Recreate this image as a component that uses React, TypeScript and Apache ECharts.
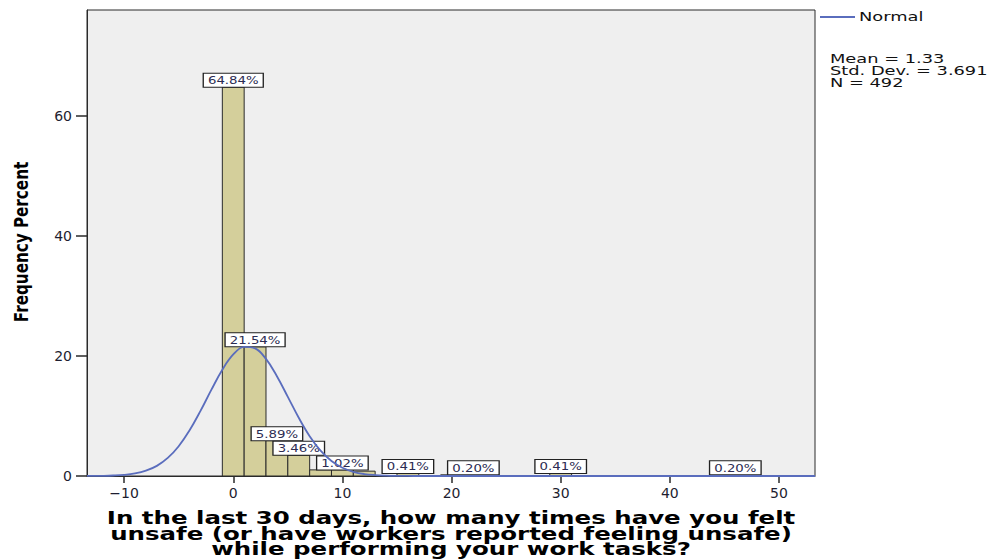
import React, { useEffect, useRef } from "react";
import * as echarts from "echarts";

// Histogram bins (bin width 2, centred on even values)
const binWidth = 2;
const binCenters = [0, 2, 4, 6, 8, 10, 12, 16, 20, 22, 30, 46];
const percents = [64.84, 21.54, 5.89, 3.46, 1.02, 1.02, 0.81, 0.41, 0.2, 0.2, 0.41, 0.2];
const labelShown = [true, true, true, true, false, true, false, true, false, true, true, true];

// Normal curve (Mean = 1.33, SD = 3.691, scaled to percent)
const normalX = [-13.4, -13, -12, -11, -10, -9, -8, -7, -6, -5, -4, -3, -2, -1, 0, 1, 2, 3, 4, 5, 6, 7, 8, 9, 10, 11, 12, 13, 14, 15, 16, 17, 18, 19, 20, 30, 40, 53.3];
const normalY = [0.01, 0.01, 0.03, 0.08, 0.19, 0.43, 0.89, 1.69, 3.01, 4.97, 7.62, 10.86, 14.39, 17.72, 20.26, 21.53, 21.27, 19.52, 16.64, 13.19, 9.71, 6.64, 4.22, 2.5, 1.37, 0.7, 0.33, 0.15, 0.06, 0.02, 0.01, 0, 0, 0, 0, 0, 0, 0];

const xTicks = [-10, 0, 10, 20, 30, 40, 50];
const yTicks = [0, 20, 40, 60];

const legendName = "Normal";
const statLines = ["Mean = 1.33", "Std. Dev. = 3.691", "N = 492"];
const xTitleLines = [
  "In the last 30 days, how many times have you felt",
  "unsafe (or have workers reported feeling unsafe)",
  "while performing your work tasks?",
];
const yTitle = "Frequency Percent";

export default function App() {
  const ref = useRef<HTMLDivElement>(null);

  useEffect(() => {
    if (!ref.current) return;
    const chart = echarts.init(ref.current, null, { renderer: "svg" });
    const barColor = "#d4cf9b";
    const lineColor = "#5a6dbd";
    const font = "DejaVu Sans";

    const option: any = {
      animation: false,
      backgroundColor: "#ffffff",
      grid: {
        left: 87,
        right: 180,
        top: 10,
        bottom: 83,
        show: true,
        backgroundColor: "#efefef",
        borderColor: "#2a2a2a",
        borderWidth: 1,
      },
      xAxis: {
        type: "value",
        min: -13.4,
        max: 53.3,
        splitLine: { show: false },
        axisLine: { show: true, onZero: false, lineStyle: { color: "#2a2a2a", width: 1 } },
        axisTick: { show: true, customValues: xTicks, length: 7, lineStyle: { color: "#2a2a2a", width: 1.5 } },
        axisLabel: {
          customValues: xTicks,
          margin: 10,
          fontSize: 14,
          fontFamily: font,
          color: "#1e1e30",
          formatter: (v: number) => String(v).replace("-", "\u2212"),
        },
      },
      yAxis: {
        type: "value",
        min: 0,
        max: 77.7,
        splitLine: { show: false },
        axisLine: { show: true, onZero: false, lineStyle: { color: "#2a2a2a", width: 1 } },
        axisTick: { show: true, customValues: yTicks, length: 11, lineStyle: { color: "#2a2a2a", width: 1.5 } },
        axisLabel: {
          customValues: yTicks,
          margin: 15,
          fontSize: 14,
          fontFamily: font,
          color: "#1e1e30",
        },
      },
      series: [
        {
          type: "custom",
          z: 2,
          data: binCenters.map((c, i) => [c, percents[i], i]),
          renderItem: (params: any, api: any) => {
            const c = api.value(0);
            const v = api.value(1);
            const idx = api.value(2);
            const p0 = api.coord([c - binWidth / 2, v]);
            const p1 = api.coord([c + binWidth / 2, 0]);
            const children: any[] = [
              {
                type: "rect",
                shape: { x: p0[0], y: p0[1], width: p1[0] - p0[0], height: p1[1] - p0[1] },
                style: { fill: barColor, stroke: "#2b2b2b", lineWidth: 1 },
              },
            ];
            if (labelShown[idx]) {
              children.push({
                type: "text",
                x: (p0[0] + p1[0]) / 2,
                y: p0[1] - 0.5,
                scaleX: 1.33,
                z2: 10,
                style: {
                  text: v.toFixed(2) + "%",
                  x: 0,
                  y: 0,
                  align: "center",
                  verticalAlign: "bottom",
                  fontSize: 10,
                  fontFamily: font,
                  fill: "#2c2c52",
                  backgroundColor: "#ffffff",
                  borderColor: "#222222",
                  borderWidth: 1,
                  padding: [2, 3, 1, 3],
                },
              });
            }
            return { type: "group", children };
          },
        },
        {
          type: "line",
          name: legendName,
          z: 5,
          data: normalX.map((x, i) => [x, normalY[i]]),
          smooth: 0.4,
          showSymbol: false,
          symbol: "none",
          lineStyle: { color: lineColor, width: 1.8 },
          itemStyle: { color: lineColor },
        },
      ],
      graphic: [
        {
          type: "line",
          shape: { x1: 820, y1: 17, x2: 855, y2: 17 },
          style: { stroke: lineColor, lineWidth: 1.8 },
        },
        {
          type: "text",
          x: 859,
          y: 17,
          scaleX: 1.37,
          style: { text: legendName, x: 0, y: 0, verticalAlign: "middle", fontSize: 13, fontFamily: font, fill: "#111111" },
        },
        ...statLines.map((t, i) => ({
          type: "text",
          x: 830,
          y: 59 + i * 12,
          scaleX: 1.37,
          style: { text: t, x: 0, y: 0, verticalAlign: "middle", fontSize: 13, fontFamily: font, fill: "#111111" },
        })),
        ...xTitleLines.map((t, i) => ({
          type: "text",
          x: 451,
          y: 518 + i * 15.5,
          scaleX: 1.36,
          style: {
            text: t,
            x: 0,
            y: 0,
            align: "center",
            verticalAlign: "middle",
            fontSize: 18,
            fontWeight: "bold",
            fontFamily: font,
            fill: "#000000",
          },
        })),
        {
          type: "text",
          x: 21,
          y: 242,
          rotation: Math.PI / 2,
          scaleX: 0.76,
          style: {
            text: yTitle,
            x: 0,
            y: 0,
            align: "center",
            verticalAlign: "middle",
            fontSize: 20,
            fontWeight: "bold",
            fontFamily: font,
            fill: "#000000",
          },
        },
      ],
    };

    chart.setOption(option);
    return () => chart.dispose();
  }, []);

  return (
    <div
      ref={ref}
      style={{ position: "absolute", left: 0, top: 0, width: 995, height: 559 }}
    />
  );
}
